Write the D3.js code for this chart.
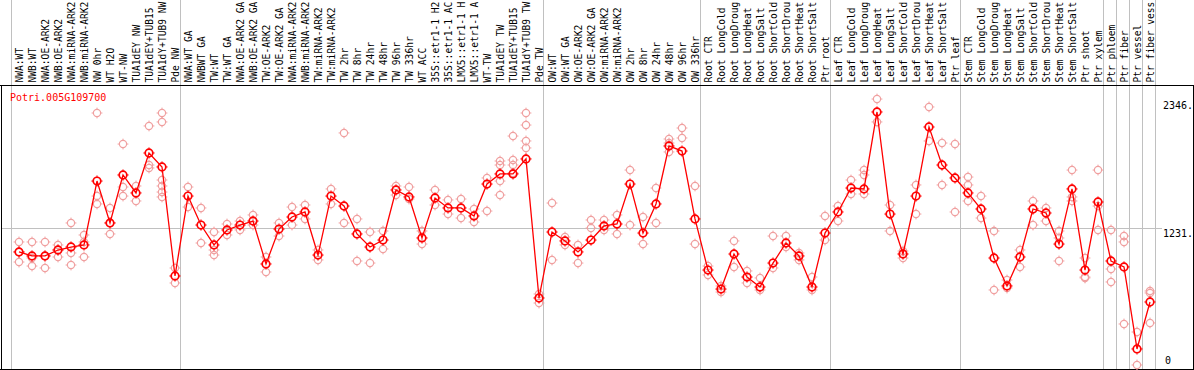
<!DOCTYPE html>
<html><head><meta charset="utf-8">
<script src="https://cdn.jsdelivr.net/npm/d3@7"></script>
<style>
body{margin:0;background:#fff}
svg{display:block}
text{font-family:"DejaVu Sans Mono",monospace;font-size:10px}
text.col{font-size:9.6px}
</style>
</head><body>
<svg id="c" width="1194" height="370"></svg>
<script>
const title = "Potri.005G109700";
const labels = [
 "NWA:WT","NWB:WT","NWA:OE-ARK2","NWB:OE-ARK2","NWA:miRNA-ARK2","NWB:miRNA-ARK2","NW 0hr","WT H2O","WT-NW","TUA1dEY NW","TUA1dEY+TUB15","TUA1dY+TUB9 NW","Pde NW",
 "NWA:WT GA","NWBWT GA","TW:WT","TW:WT GA","NWA:OE-ARK2 GA","NWB:OE-ARK2 GA","TW:OE-ARK2","TW:OE-ARK2 GA","NWA:miRNA-ARK2","NWB:miRNA-ARK2","TW:miRNA-ARK2","TW:miRNA-ARK2",
 "TW 2hr","TW 8hr","TW 24hr","TW 48hr","TW 96hr","TW 336hr","WT ACC","35S::etr1-1 H2","35S::etr1-1 AC","LMX5::etr1-1 H","LMX5::etr1-1 A","WT-TW","TUA1dEY TW","TUA1dEY+TUB15","TUA1dY+TUB9 TW","Pde TW",
 "OW:WT","OW:WT GA","OW:OE-ARK2","OW:OE-ARK2 GA","OW:miRNA-ARK2","OW:miRNA-ARK2","OW 2hr","OW 8hr","OW 24hr","OW 48hr","OW 96hr","OW 336hr",
 "Root CTR","Root LongCold","Root LongDroug","Root LongHeat","Root LongSalt","Root ShortCold","Root ShortDrou","Root ShortHeat","Root ShortSalt","Ptr root",
 "Leaf CTR","Leaf LongCold","Leaf LongDroug","Leaf LongHeat","Leaf LongSalt","Leaf ShortCold","Leaf ShortDrou","Leaf ShortHeat","Leaf ShortSalt","Ptr leaf",
 "Stem CTR","Stem LongCold","Stem LongDroug","Stem LongHeat","Stem LongSalt","Stem ShortCold","Stem ShortDrou","Stem ShortHeat","Stem ShortSalt","Ptr shoot","Ptr xylem",
 "Ptr phloem","Ptr fiber","Ptr vessel","Ptr fiber vess"
];
const means = [
 1022,987,987,1039,1065,1083,1641,1275,1694,1537,1886,1764,812,
 1510,1257,1083,1214,1257,1292,917,1222,1327,1371,995,1510,1423,1179,1065,1126,1563,1502,1144,1493,1406,1406,1336,1615,1703,1703,1834,620,
 1196,1118,1022,1126,1249,1266,1615,1187,1441,1947,1903,1310,
 864,698,1004,803,716,925,1100,987,716,1187,
 1371,1580,1572,2244,1353,1004,1510,2113,1781,1668,
 1537,1397,969,725,978,1397,1362,1091,1572,864,1458,
 943,891,175,585
];
const reps = [
 [1109,1022,934],[1109,969,899],[1109,987,882],[1083,978,1039],[1275,1013,908],[1170,1109,978],[2235,1510,1441],[1406,1179,1275],[1964,1589,1510],[1598,1467],[2122,1781,1755],[2235,2157,1650,1598,1545,1502],[882,751],
 [1589,1414],[1406,1100],[1196,1039,995],[1266,1170],[1292,1214],[1345,1257],[978,847],[1275,1161],[1414,1257],[1432,1310],[1039,952],[1572,1441],[2061,1275],[1310,943],[1196,925],[1205,1048],[1598,1519],[1589,1484],[1205,1091],[1563,1432],[1476,1353],[1484,1318],[1397,1283],[1668,1379],[1816,1781,1641,1519],[2034,1825,1781,1711],[2235,2130,1991,1930],[655,576],
 [1449,952],[1152,1083],[1083,925],[1301,1231],[1301,1214],[1345,1179],[1737,1257],[1327,1091],[1580,1275],[2008,1973,1895],[2104,2017],[1598,1091],
 [899,821],[725,672],[1118,891],[856,751],[795,690],[1161,882],[1161,1065],[1013,952],[803,690],[1336,1126],
 [1423,1292],[1650,1528],[1737,1694,1528],[2357,2157],[1432,1205],[1030,969],[1607,1353],[2288,1991],[1973,1607],[1964,1371],
 [1676,1607,1467],[1510,1318],[1205,690],[777,707],[1039,891],[1467,1257],[1406,1292],[1205,1144,943],[1737,1502,1467],[969,803,795],[1737,1423,1214],
 [1214,873,760],[1161,1109,393],[323,35],[681,664,402]
];
const groupBreaks = [0,13,41,53,63,73,84,85,86,87,88];
const tickValues = [0,1231,2346];
const tickLabels = ["0","1231.","2346."];

const W = 1194, H = 370;
const svg = d3.select("#c");
svg.append("rect").attr("width",W).attr("height",H).attr("fill","#fff");

const x = d3.scaleLinear().domain([0, labels.length]).range([10.5, 1154.5]);
const cx = i => x(i) + 8.5;
const y = d3.scaleLinear().domain([0, 2346]).range([369, 100.3]);

const grid = svg.append("g").attr("shape-rendering","crispEdges");
grid.selectAll("line.v").data(groupBreaks).join("line")
  .attr("x1", d => Math.round(x(d)) + 0.5).attr("x2", d => Math.round(x(d)) + 0.5)
  .attr("y1", 0).attr("y2", 369)
  .attr("stroke", "#c0c0c0").attr("stroke-width", 1);
grid.append("line")
  .attr("x1", 2).attr("x2", 1162)
  .attr("y1", Math.round(y(1231)) + 0.5).attr("y2", Math.round(y(1231)) + 0.5)
  .attr("stroke", "#c0c0c0");

const frame = svg.append("g").attr("shape-rendering","crispEdges").attr("stroke","#000").attr("stroke-width",1.2);
frame.append("line").attr("x1",0).attr("x2",W).attr("y1",85.5).attr("y2",85.5);
frame.append("line").attr("x1",1.5).attr("x2",1.5).attr("y1",85).attr("y2",370);
frame.append("line").attr("x1",0).attr("x2",W).attr("y1",369.5).attr("y2",369.5);
frame.append("line").attr("x1",1193.5).attr("x2",1193.5).attr("y1",85).attr("y2",370);

svg.append("g").selectAll("text").data(labels).join("text")
  .attr("class","col")
  .attr("transform", (d,i) => `translate(${cx(i)+0.5},82.5) rotate(-90)`)
  .attr("dominant-baseline","central")
  .attr("fill","#000")
  .text(d => d);

svg.append("text").attr("x",10).attr("y",101).attr("fill","#ff0000").text(title);

svg.append("g").selectAll("text").data(tickValues).join("text")
  .attr("x", (d,i) => d === 0 ? 1165 : 1163)
  .attr("y", d => d === 0 ? y(d) - 5 : y(d) + 9)
  .attr("fill","#000")
  .text((d,i) => tickLabels[i]);

function marker(g, px, py, r, color, sw) {
  g.append("circle").attr("cx",px).attr("cy",py).attr("r",r)
    .attr("fill","none").attr("stroke",color).attr("stroke-width",sw);
  const t = r + 1.8;
  [[0,-1],[0,1],[-1,0],[1,0]].forEach(([dx,dy]) => {
    g.append("line")
      .attr("x1", px + dx*(r-0.5)).attr("y1", py + dy*(r-0.5))
      .attr("x2", px + dx*t).attr("y2", py + dy*t)
      .attr("stroke",color).attr("stroke-width",1);
  });
}

const repG = svg.append("g");
reps.forEach((arr,i) => arr.forEach(v => marker(repG, cx(i), y(v), 3.6, "#f0a0a0", 1.2)));

const line = d3.line().x((d,i) => cx(i)).y(d => y(d));
svg.append("path").datum(means).attr("d", line)
  .attr("fill","none").attr("stroke","#ff0000").attr("stroke-width",1.3);

const meanG = svg.append("g");
means.forEach((v,i) => marker(meanG, cx(i), y(v), 3.8, "#ff0000", 1.7));
</script>
</body></html>
